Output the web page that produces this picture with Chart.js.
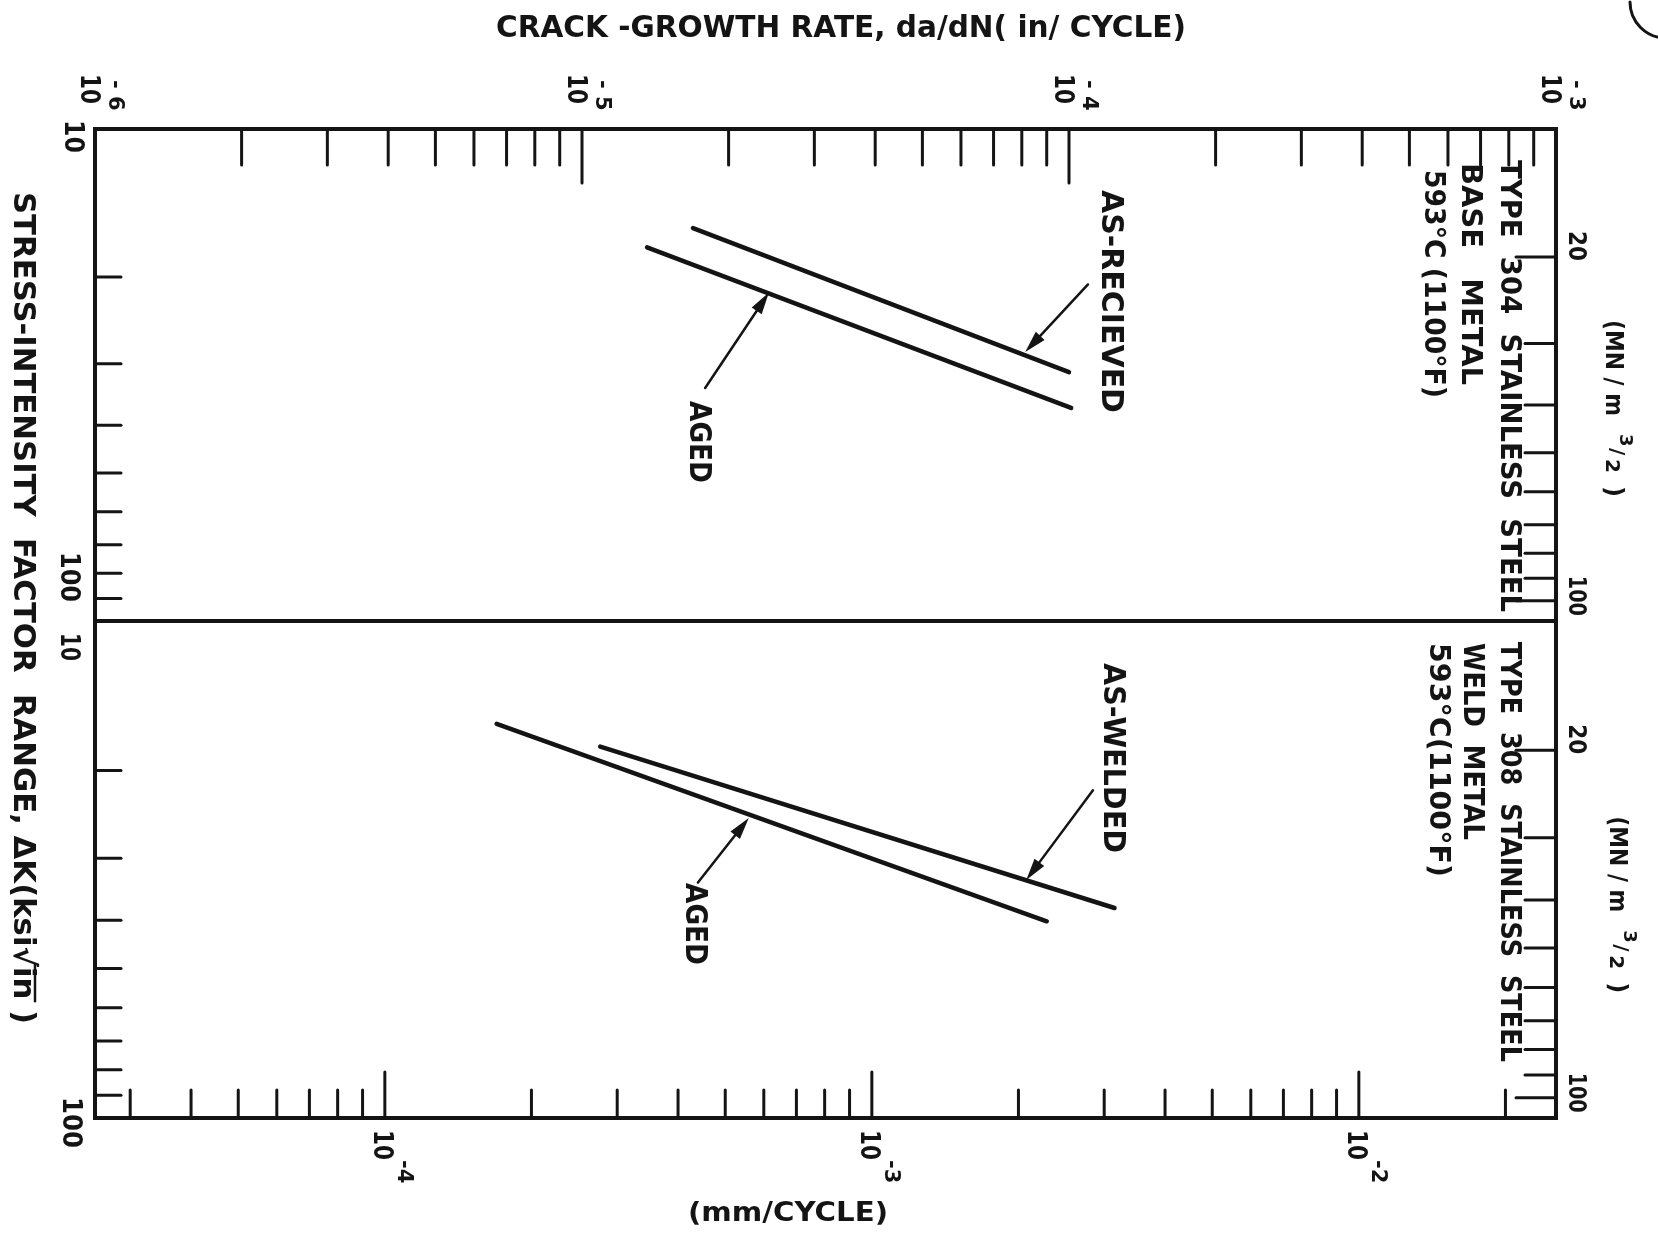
<!DOCTYPE html>
<html>
<head>
<meta charset="utf-8">
<title>Crack growth rate vs stress-intensity factor range</title>
<script src="https://cdn.jsdelivr.net/npm/chart.js@4.4.1/dist/chart.umd.min.js"></script>
<style>
  html, body { margin: 0; padding: 0; background: #fff; }
  canvas { display: block; }
</style>
</head>
<body>
<canvas id="chart" width="1658" height="1233"></canvas>
<script>
// axis tick values
const inDecades = [1e-6, 1e-5, 1e-4, 1e-3];
const inExponents = ["-6", "-5", "-4", "-3"];
const mmDecades = [1e-4, 1e-3, 1e-2];
const mmExponents = ["-4", "-3", "-2"];
const ksiMinor = [20, 30, 40, 50, 60, 70, 80, 90];
const mnMinor = [20, 30, 40, 50, 60, 70, 80, 90, 100];
const IN_TO_MM = 25.4;
const KSI_TO_MN = 1.0988;

// Type 304 base metal (upper panel), rate in in/cycle, dK in ksi*sqrt(in)
const baseRecvRate = [1.69e-5, 1.0e-4];
const baseRecvK = [15.9, 31.2];
const baseAgedRate = [1.36e-5, 1.01e-4];
const baseAgedK = [17.4, 36.9];

// Type 308 weld metal (lower panel)
const weldRate = [1.09e-5, 1.24e-4];
const weldK = [17.9, 37.8];
const weldAgedRate = [6.68e-6, 9.0e-5];
const weldAgedK = [16.1, 40.2];

// arrow tails / tips in data units [rate, dK]
const arrowsTop = [
  { from: [1.094e-4, 20.7], to: [8.13e-5, 28.4] },
  { from: [1.79e-5, 33.6], to: [2.42e-5, 21.5] },
];
const arrowsBottom = [
  { from: [1.12e-4, 21.9], to: [8.17e-5, 33.2] },
  { from: [1.73e-5, 33.6], to: [2.20e-5, 24.9] },
];

const INK = "#141414";
const FONT = '"DejaVu Sans", sans-serif';

const toPoints = (xs, ys) => xs.map((x, i) => ({ x: x, y: ys[i] }));

const lineSet = (xs, ys, yAxis) => ({
  data: toPoints(xs, ys),
  yAxisID: yAxis,
  xAxisID: "x",
  showLine: true,
  borderColor: INK,
  borderWidth: 4.5,
  borderCapStyle: "round",
  pointRadius: 0,
  fill: false,
});

// vertical text, read top to bottom (page turned clockwise)
function vtext(ctx, str, cx, y0, size, len) {
  ctx.save();
  ctx.translate(cx, y0);
  ctx.rotate(Math.PI / 2);
  ctx.font = "bold " + size + "px " + FONT;
  ctx.textBaseline = "middle";
  ctx.textAlign = "left";
  let k = 1;
  if (len) {
    k = len / ctx.measureText(str).width;
    ctx.scale(k, 1);
  }
  ctx.fillText(str, 0, 0);
  ctx.restore();
  return k;
}

function htext(ctx, str, x0, cy, size, len) {
  ctx.save();
  ctx.translate(x0, cy);
  ctx.font = "bold " + size + "px " + FONT;
  ctx.textBaseline = "middle";
  ctx.textAlign = "left";
  if (len) {
    const w = ctx.measureText(str).width;
    ctx.scale(len / w, 1);
  }
  ctx.fillText(str, 0, 0);
  ctx.restore();
}

function seg(ctx, x1, y1, x2, y2) {
  ctx.beginPath();
  ctx.moveTo(x1, y1);
  ctx.lineTo(x2, y2);
  ctx.stroke();
}

function arrow(ctx, x1, y1, x2, y2) {
  const a = Math.atan2(y2 - y1, x2 - x1);
  const hl = 22, hw = 6;
  seg(ctx, x1, y1, x2 - Math.cos(a) * hl * 0.8, y2 - Math.sin(a) * hl * 0.8);
  ctx.beginPath();
  ctx.moveTo(x2, y2);
  ctx.lineTo(x2 - hl * Math.cos(a) + hw * Math.sin(a), y2 - hl * Math.sin(a) - hw * Math.cos(a));
  ctx.lineTo(x2 - hl * Math.cos(a) - hw * Math.sin(a), y2 - hl * Math.sin(a) + hw * Math.cos(a));
  ctx.closePath();
  ctx.fill();
}

const figurePlugin = {
  id: "figure",
  afterDraw(chart) {
    const ctx = chart.ctx;
    const { left, right, top, bottom } = chart.chartArea;
    const sx = chart.scales.x;
    const smm = chart.scales.xmm;
    const yT = chart.scales.yTop;
    const yB = chart.scales.yBot;
    const mT = chart.scales.mnTop;
    const mB = chart.scales.mnBot;

    ctx.save();
    ctx.strokeStyle = INK;
    ctx.fillStyle = INK;
    ctx.lineCap = "round";

    // frame and panel divider
    ctx.lineWidth = 4;
    ctx.strokeRect(left, top, right - left, bottom - top);
    const mid = yT.getPixelForValue(100);
    seg(ctx, left, mid, right, mid);

    // top ticks (in/cycle), pointing down
    ctx.lineWidth = 3;
    [-6, -5, -4].forEach((d) => {
      for (let m = 1; m <= 9; m++) {
        const v = m * Math.pow(10, d);
        if (v <= sx.min * 1.0001) continue;
        const x = sx.getPixelForValue(v);
        seg(ctx, x, top, x, top + (m === 1 ? 54 : 36));
      }
    });

    // bottom ticks (mm/cycle), pointing up
    [-5, -4, -3, -2].forEach((d) => {
      for (let m = 1; m <= 9; m++) {
        const v = m * Math.pow(10, d);
        if (v <= smm.min || v >= smm.max) continue;
        const x = smm.getPixelForValue(v);
        seg(ctx, x, bottom, x, bottom - (m === 1 ? 46 : 28));
      }
    });

    // left ticks (ksi sqrt in)
    [yT, yB].forEach((s) => {
      ksiMinor.forEach((v) => {
        const y = s.getPixelForValue(v);
        seg(ctx, left, y, left + 26, y);
      });
    });

    // right ticks (MN/m^3/2)
    [mT, mB].forEach((s) => {
      mnMinor.forEach((v) => {
        const y = s.getPixelForValue(v);
        seg(ctx, right, y, right - (v === 20 || v === 100 ? 40 : 31), y);
      });
    });

    // arrows
    ctx.lineWidth = 2.5;
    arrowsTop.forEach((a) => {
      arrow(ctx, sx.getPixelForValue(a.from[0]), yT.getPixelForValue(a.from[1]),
        sx.getPixelForValue(a.to[0]), yT.getPixelForValue(a.to[1]));
    });
    arrowsBottom.forEach((a) => {
      arrow(ctx, sx.getPixelForValue(a.from[0]), yB.getPixelForValue(a.from[1]),
        sx.getPixelForValue(a.to[0]), yB.getPixelForValue(a.to[1]));
    });

    // top tick labels 10^n (in/cycle)
    inDecades.forEach((v, i) => {
      const x = sx.getPixelForValue(v);
      vtext(ctx, "10", x - 7, 74, 26, 30);
      vtext(ctx, "- " + inExponents[i].slice(1), x + 19, 80, 21);
    });

    // bottom tick labels 10^n (mm/cycle)
    mmDecades.forEach((v, i) => {
      const x = smm.getPixelForValue(v);
      vtext(ctx, "10", x - 4, 1130, 26, 30);
      vtext(ctx, "-" + mmExponents[i].slice(1), x + 19, 1160, 21);
    });

    // left labels
    vtext(ctx, "10", 72, yT.getPixelForValue(10) - 9, 26, 33);
    vtext(ctx, "100", 68, yT.getPixelForValue(100) - 69, 26, 50);
    vtext(ctx, "10", 68, yB.getPixelForValue(10) + 12, 26, 28);
    vtext(ctx, "100", 70, yB.getPixelForValue(100) - 21, 26, 51);

    // left axis title, with the bar over "in"
    const yTitle = 192, titleLen = 832;
    const pre = "STRESS-INTENSITY  FACTOR  RANGE, \u0394K(ksi\u221A";
    const full = pre + "in )";
    const k = vtext(ctx, full, 22, yTitle, 30, titleLen);
    ctx.font = "bold 30px " + FONT;
    const a0 = yTitle + ctx.measureText(pre).width * k;
    const a1 = a0 + ctx.measureText("in").width * k;
    ctx.lineWidth = 2.5;
    seg(ctx, 22 + 13, a0 - 2, 22 + 13, a1 + 2);

    // right labels
    [mT, mB].forEach((s, j) => {
      vtext(ctx, "20", 1575, s.getPixelForValue(20) - 26, 24, 30);
      vtext(ctx, "100", 1575, s.getPixelForValue(100) - 25, 24, 40);
      const y0 = s.getPixelForValue(20) + 63 + j * 3;
      const cx = 1612 + j * 4;
      vtext(ctx, "(MN / m", cx, y0, 25, 96);
      vtext(ctx, "3", cx + 13, y0 + 114, 18);
      vtext(ctx, "/", cx + 4, y0 + 128, 20);
      vtext(ctx, "2", cx - 1, y0 + 139, 20);
      vtext(ctx, ")", cx, y0 + 166, 24);
    });

    // titles
    htext(ctx, "CRACK -GROWTH RATE, da/dN( in/ CYCLE)", 496, 29, 31, 690);
    htext(ctx, "(mm/CYCLE)", 688, 1214, 27, 200);

    // panel notes
    vtext(ctx, "TYPE  304  STAINLESS  STEEL", 1509, 160, 29, 452);
    vtext(ctx, "BASE   METAL", 1470, 163, 29, 222);
    vtext(ctx, "593\u00B0C (1100\u00B0F)", 1433, 170, 29, 228);
    vtext(ctx, "TYPE  308  STAINLESS  STEEL", 1509, 642, 29, 420);
    vtext(ctx, "WELD  METAL", 1472, 643, 29, 197);
    vtext(ctx, "593\u00B0C(1100\u00B0F)", 1438, 643, 29, 234);

    vtext(ctx, "AS-RECIEVED", 1110, 190, 30, 223);
    vtext(ctx, "AGED", 698, 401, 30, 82);
    vtext(ctx, "AS-WELDED", 1112, 663, 30, 190);
    vtext(ctx, "AGED", 694, 883, 30, 82);

    // page mark at the corner
    ctx.lineWidth = 3;
    ctx.beginPath();
    ctx.arc(1666, 2, 36, Math.PI * 0.5, Math.PI * 1.0);
    ctx.stroke();

    ctx.restore();
  },
};

new Chart(document.getElementById("chart"), {
  type: "scatter",
  data: {
    datasets: [
      lineSet(baseRecvRate, baseRecvK, "yTop"),
      lineSet(baseAgedRate, baseAgedK, "yTop"),
      lineSet(weldRate, weldK, "yBot"),
      lineSet(weldAgedRate, weldAgedK, "yBot"),
    ],
  },
  options: {
    responsive: false,
    animation: false,
    devicePixelRatio: 1,
    layout: { padding: { left: 95, top: 129, right: 102, bottom: 115 } },
    plugins: { legend: { display: false }, tooltip: { enabled: false } },
    scales: {
      x: { type: "logarithmic", min: 1e-6, max: 1e-3, display: false },
      xmm: { type: "logarithmic", axis: "x", min: 1e-6 * IN_TO_MM, max: 1e-3 * IN_TO_MM, display: false },
      // each panel spans one decade of dK; the scales run on past the panel edge
      yTop: { type: "logarithmic", axis: "y", reverse: true, min: 10, max: 1023.8, display: false },
      yBot: { type: "logarithmic", axis: "y", reverse: true, min: 1.0234, max: 100, display: false },
      mnTop: { type: "logarithmic", axis: "y", reverse: true, min: 10 * KSI_TO_MN, max: 1023.8 * KSI_TO_MN, display: false },
      mnBot: { type: "logarithmic", axis: "y", reverse: true, min: 1.0234 * KSI_TO_MN, max: 100 * KSI_TO_MN, display: false },
    },
  },
  plugins: [figurePlugin],
});
</script>
</body>
</html>
